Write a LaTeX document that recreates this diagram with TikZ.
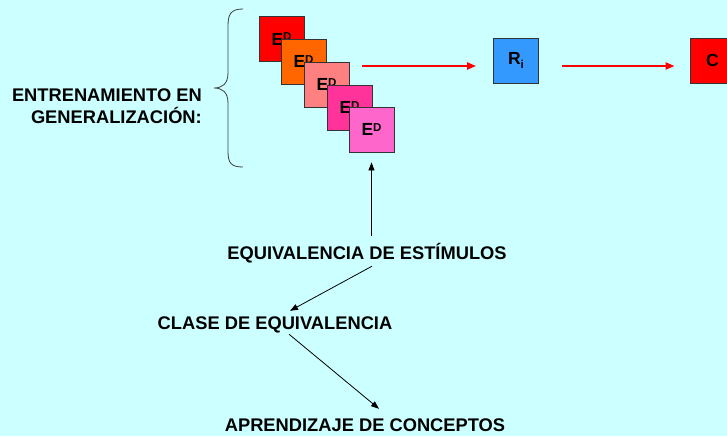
\documentclass[tikz,border=0pt]{standalone}
\usepackage{fontspec}
\setmainfont{Liberation Sans}
\usetikzlibrary{arrows.meta}

\definecolor{bgcyan}{RGB}{204,255,255}
\definecolor{ered}{RGB}{255,0,0}
\definecolor{eorange}{RGB}{255,102,0}
\definecolor{esalmon}{RGB}{255,128,128}
\definecolor{epink}{RGB}{255,51,153}
\definecolor{elilac}{RGB}{255,102,204}
\definecolor{rblue}{RGB}{51,153,255}

% small raised / lowered letters at a fixed size
\newcommand{\stimsup}[1]{\raisebox{4.5pt}{\fontsize{11.5}{12}\selectfont\bfseries #1}}
\newcommand{\stimsub}[1]{\raisebox{-3.5pt}{\fontsize{11.5}{12}\selectfont\bfseries #1}}

\begin{document}
\begin{tikzpicture}[x=1pt, y=-1pt,
  every node/.style={font=\fontsize{18.3}{22}\selectfont\bfseries, inner sep=0pt},
  box/.style={draw=black!80, line width=0.8pt, minimum size=45pt, font=\fontsize{17.5}{20}\selectfont\bfseries},
  txt/.style={text height=13pt, text depth=0pt},
  redarrow/.style={red, line width=2pt, -{Triangle[length=9pt,width=7pt]}},
  blackarrow/.style={black, line width=0.8pt, -{Triangle[length=8pt,width=6pt]}}]

% Background
\fill[bgcyan] (0,0) rectangle (727,436);
\useasboundingbox (0,0) rectangle (727,436);

% Stimulus boxes
\node[box, fill=ered] (e1) at (281.5,39) {E\stimsup{D}};
\node[box, fill=eorange] (e2) at (303.5,61.5) {E\stimsup{D}};
\node[box, fill=esalmon] (e3) at (326.5,84.5) {E\stimsup{D}};
\node[box, fill=epink] (e4) at (349.5,107.5) {E\stimsup{D}};
\node[box, fill=elilac] (e5) at (371.5,129.5) {E\stimsup{D}};

% Response and consequence
\node[box, fill=rblue] (r) at (516,60.5) {R\stimsub{i}};
\node[box, fill=ered] (c) at (712.5,60.5) {C};

\coordinate (start) at (362,66);
\draw[redarrow] (start) -- ([xshift=-17pt,yshift=-5.5pt]r.west);
\draw[redarrow] ([xshift=23pt,yshift=-5.5pt]r.east) -- ([xshift=-15pt,yshift=-5.5pt]c.west);

% Brace
\draw[black!75, line width=0.8pt] (243,9) .. controls (231,9) and (228,14) .. (228,26)
  -- (228,73) .. controls (228,84) and (222,88) .. (214,88)
  .. controls (222,88) and (228,92) .. (228,103)
  -- (228,151) .. controls (228,163) and (231,167) .. (243,167);
\node[align=right, anchor=east] (train) at (202,106) {ENTRENAMIENTO EN\\GENERALIZACIÓN:};

% Concepts
\node[txt] (eq) at (367,253) {EQUIVALENCIA DE ESTÍMULOS};
\node[txt] (cl) at (275,323) {CLASE DE EQUIVALENCIA};
\node[txt] (ap) at (365,425) {APRENDIZAJE DE CONCEPTOS};

\draw[blackarrow, shorten <=10pt, shorten >=10pt] (eq.north -| e5.south) -- (e5.south);
\draw[blackarrow] ([xshift=5pt,yshift=-6.5pt]eq.south) -- ([xshift=15pt,yshift=5.5pt]cl.north);
\draw[blackarrow] ([xshift=14pt,yshift=-4.5pt]cl.south) -- ([xshift=14pt,yshift=9.5pt]ap.north);
\end{tikzpicture}
\end{document}
